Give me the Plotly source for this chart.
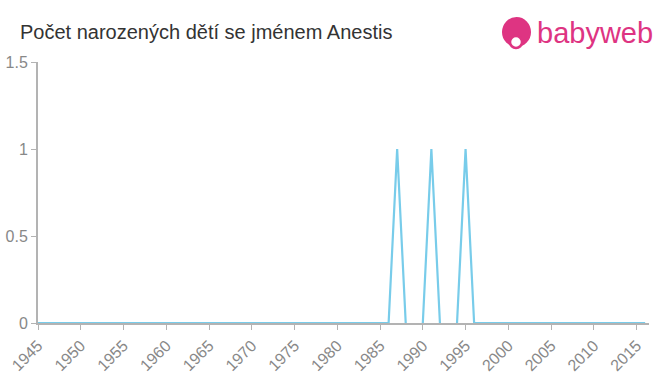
import plotly.graph_objects as go

years = list(range(1945, 2017))
# births per year (None = no record, line broken)
counts = [0] * 41 + [0, 1, 0, None, 0, 1, 0, None, 0, 1, 0] + [0] * 20
# 1945..1985 -> 41 zeros; 1986..1996 explicit; 1997..2016 -> 20 zeros
x_tick_vals = list(range(1945, 2016, 5))
y_tick_vals = [0, 0.5, 1, 1.5]
y_tick_text = ["0", "0.5", "1", "1.5"]
title_text = "Počet narozených dětí se jménem Anestis"

fig = go.Figure()
fig.add_trace(go.Scatter(
    x=years, y=counts, mode="lines",
    line=dict(color="rgb(120,204,234)", width=2.2),
    connectgaps=False, hoverinfo="x+y", showlegend=False,
))

axis_col = "#b3b3b3"
fig.update_layout(
    width=660, height=375,
    margin=dict(l=38, r=11, t=62, b=52, autoexpand=False),
    paper_bgcolor="white", plot_bgcolor="white",
    font=dict(family="Liberation Sans, Arial, sans-serif", color="#888888"),
    title=dict(text=title_text, x=20 / 660, xanchor="left", y=1 - 32 / 375, yanchor="middle",
               font=dict(size=20, color="#333333")),
    xaxis=dict(
        range=[1945, 2016.45], tickmode="array", tickvals=x_tick_vals,
        tickangle=-45, ticks="outside", ticklen=5, tickcolor=axis_col,
        showline=True, linecolor=axis_col, linewidth=2, showgrid=False, zeroline=False,
        tickfont=dict(size=16, color="#888888"), automargin=False,
    ),
    yaxis=dict(
        range=[0, 1.5], tickmode="array", tickvals=y_tick_vals, ticktext=y_tick_text,
        ticks="outside", ticklen=5, tickcolor=axis_col,
        showline=True, linecolor=axis_col, linewidth=2, showgrid=False, zeroline=False,
        tickfont=dict(size=16, color="#888888"), automargin=False,
    ),
)

pink = "rgb(222,52,130)"
# logo icon
fig.add_shape(type="circle", xref="paper", yref="paper",
              x0=(502 - 38) / 611, x1=(531 - 38) / 611,
              y0=(323 - 47) / 261, y1=(323 - 17) / 261,
              fillcolor=pink, line=dict(width=0), layer="above")
fig.add_shape(type="circle", xref="paper", yref="paper",
              x0=(510 - 38) / 611, x1=(522 - 38) / 611,
              y0=(323 - 48) / 261, y1=(323 - 36) / 261,
              fillcolor="white", line=dict(color=pink, width=2.5), layer="above")
fig.add_annotation(text="babyweb", xref="paper", yref="paper",
                   x=(535 - 38) / 611, y=(323 - 33) / 261, xanchor="left", yanchor="middle",
                   showarrow=False, font=dict(size=29, color=pink, family="Liberation Sans, Arial, sans-serif"))

fig.write_html("out.html")
